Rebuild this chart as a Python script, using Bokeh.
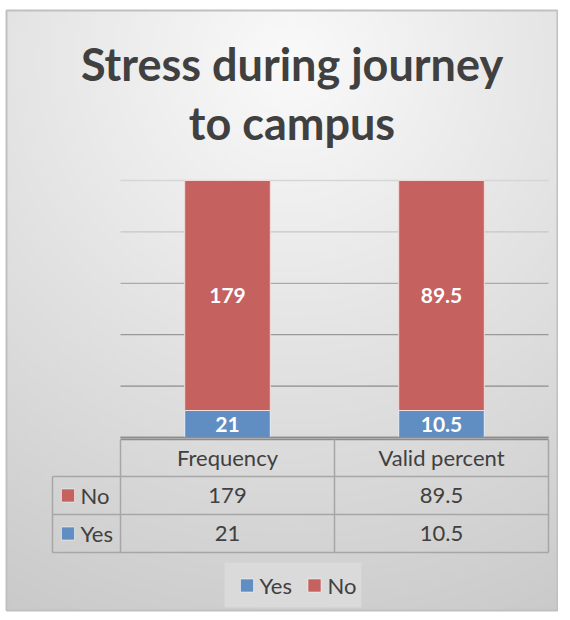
import numpy as np
from bokeh.plotting import figure
from bokeh.models import Range1d
from bokeh.core.properties import value
from bokeh.embed import file_html
from bokeh.resources import INLINE

# ---- data ----
title_lines = ["Stress during journey", "to campus"]
categories = ["Frequency", "Valid percent"]
series_names = ["Yes", "No"]
yes_values = [21, 10.5]
no_values = [179, 89.5]
grid_ticks = [0, 20, 40, 60, 80, 100]

# ---- styles ----
YES_COLOR = "#618ec2"
NO_COLOR = "#c5615e"
TEXT_COLOR = "#404040"
TABLE_LINE = "#a6a6a6"
FONT = "Lato"

W, H = 558, 612
# layout helpers: canvas pixel -> data units
def X(px):
    return (px - 120) / 214.0

def Y(py):
    return (437 - py) / 2.57

p = figure(width=W, height=H, x_range=Range1d(X(0), X(W)), y_range=Range1d(Y(H), Y(0)),
           output_backend="svg", toolbar_location=None, min_border=0,
           x_axis_location=None, y_axis_location=None)
p.grid.visible = False
p.background_fill_color = "white"
p.border_fill_color = "white"
p.outline_line_color = None

# chart box with radial gradient background (style only)
BL, BR, BT, BB = 6, 557, 10, 610
ny, nx = 150, 138
gx, gy = np.meshgrid(np.linspace(BL, BR, nx), np.linspace(BB, BT, ny))
dist = np.sqrt((gx - 290) ** 2 + (gy - 60) ** 2)
v = np.clip(250 - dist * 0.078, 195, 250).astype(np.uint32)
img = (255 << 24) | (v << 16) | (v << 8) | v
p.image_rgba(image=[img.view(np.uint32)], x=X(BL), y=Y(BB), dw=X(BR) - X(BL), dh=Y(BT) - Y(BB))
p.quad(left=X(BL), right=X(BR), bottom=Y(BB), top=Y(BT), fill_color=None, line_color="#c0c0c0", line_width=2)

# legend box background
p.quad(left=X(224), right=X(361), bottom=Y(607), top=Y(562), fill_color="#dcdcdc", fill_alpha=0.8, line_color=None)

# gridlines
n_cat = len(categories)
grid_colors = ["#8a8a8a", "#8c8c8c", "#999999", "#aaaaaa", "#c6c6c6", "#d6d6d6"]
p.segment(x0=[0] * len(grid_ticks), x1=[n_cat] * len(grid_ticks), y0=grid_ticks, y1=grid_ticks,
          line_color=grid_colors, line_width=1.3)

# 100% stacked bars
xs = [i + 0.5 for i in range(n_cat)]
totals = [a + b for a, b in zip(yes_values, no_values)]
yes_pct = [a / t * 100 for a, t in zip(yes_values, totals)]
p.vbar(x=xs, bottom=0, top=yes_pct, width=0.4, fill_color=YES_COLOR, line_color="#e8eef6", line_width=1)
p.vbar(x=xs, bottom=yes_pct, top=100, width=0.4, fill_color=NO_COLOR, line_color="#f2dcdb", line_width=1)

# data labels
fmt = lambda v: f"{v:g}"
p.text(x=xs, y=[yp / 2 for yp in yes_pct], text=[fmt(v) for v in yes_values],
       text_align="center", text_baseline="middle", text_color="white",
       text_font=value(FONT), text_font_style="bold", text_font_size="21px")
p.text(x=xs, y=[(yp + 100) / 2 for yp in yes_pct], text=[fmt(v) for v in no_values],
       text_align="center", text_baseline="middle", text_color="white",
       text_font=value(FONT), text_font_style="bold", text_font_size="21px")

# title
p.text(x=[X(291.5)] * 2, y=[Y(63), Y(122)], text=title_lines, text_align="center", text_baseline="middle",
       text_color=TEXT_COLOR, text_font=value(FONT), text_font_style="bold", text_font_size="45px")

# data table lines
rows_y = [Y(437), Y(476), Y(514), Y(552)]
p.segment(x0=[0, 0], x1=[n_cat, n_cat], y0=[Y(437), Y(439)], y1=[Y(437), Y(439)], line_color="#8c8c8c", line_width=1.5)
p.segment(x0=[X(52)] * 3, x1=[n_cat] * 3, y0=rows_y[1:], y1=rows_y[1:], line_color=TABLE_LINE, line_width=1.5)
p.segment(x0=[X(52)], x1=[X(52)], y0=[rows_y[1]], y1=[rows_y[3]], line_color=TABLE_LINE, line_width=1.5)
p.segment(x0=list(range(n_cat + 1)), x1=list(range(n_cat + 1)), y0=[Y(439)] * (n_cat + 1), y1=[rows_y[3]] * (n_cat + 1),
          line_color=TABLE_LINE, line_width=1.5)

# header
p.text(x=xs, y=[(rows_y[0] + rows_y[1]) / 2] * n_cat, text=categories, text_align="center", text_baseline="middle",
       text_color=TEXT_COLOR, text_font=value(FONT), text_font_size="22px")

# table rows (No on top, Yes below)
table_rows = [("No", no_values, NO_COLOR), ("Yes", yes_values, YES_COLOR)]
for i, (name, vals, col) in enumerate(table_rows):
    yc = (rows_y[i + 1] + rows_y[i + 2]) / 2
    p.scatter(x=[X(67.5)], y=[yc], marker="square", size=13, fill_color=col, line_color="#ffffff", line_alpha=0.5)
    p.text(x=[X(80)], y=[yc], text=[name], text_align="left", text_baseline="middle",
           text_color=TEXT_COLOR, text_font=value(FONT), text_font_size="22px")
    p.text(x=xs, y=[yc] * n_cat, text=[fmt(v) for v in vals], text_align="center", text_baseline="middle",
           text_color=TEXT_COLOR, text_font=value(FONT), text_font_size="22px")

# legend
leg_y = Y(585)
p.scatter(x=[X(246.5), X(314)], y=[leg_y, leg_y], marker="square", size=13,
          fill_color=[YES_COLOR, NO_COLOR], line_color="#ffffff", line_alpha=0.5)
p.text(x=[X(259), X(327)], y=[leg_y, leg_y], text=series_names, text_align="left", text_baseline="middle",
       text_color=TEXT_COLOR, text_font=value(FONT), text_font_size="22px")

open("out.html", "w").write(file_html(p, INLINE))
